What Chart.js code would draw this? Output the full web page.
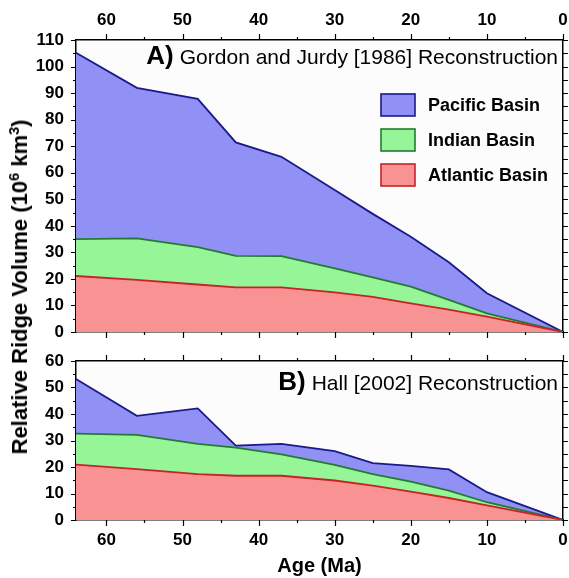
<!DOCTYPE html>
<html lang="en">
<head>
<meta charset="UTF-8">
<title>Relative Ridge Volume</title>
<script src="https://cdn.jsdelivr.net/npm/chart.js"></script>
<style>
  html, body { margin: 0; padding: 0; background: #fff; }
  body { width: 569px; height: 578px; position: relative; overflow: hidden; }
  .panel { position: absolute; left: 0; width: 569px; }
  #boxA { top: 0; height: 350px; }
  #boxB { top: 350px; height: 228px; }
  #ytitle {
    position: absolute; left: 20px; top: 287px;
    transform: translate(-50%, -50%) rotate(-90deg);
    white-space: nowrap; line-height: 1;
    font: bold 22px "Liberation Sans", Arial, Helvetica, sans-serif;
  }
  #ytitle sup { font-size: 0.66em; vertical-align: 0.55em; line-height: 0; }
</style>
</head>
<body>
  <div class="panel" id="boxA"><canvas id="chartA"></canvas></div>
  <div class="panel" id="boxB"><canvas id="chartB"></canvas></div>
  <div id="ytitle">Relative Ridge Volume (10<sup>6</sup> km<sup>3</sup>)</div>

<script>
// ages (Ma) where the curves were sampled
const ages = [64, 56, 48, 43, 37, 30, 25, 20, 15, 10, 0];
const ageTicks = [60, 50, 40, 30, 20, 10, 0];

// A) Gordon and Jurdy [1986] - top edge of each stacked band (10^6 km^3)
const atlanticA  = [21.1, 19.6, 17.9, 16.8, 16.8, 14.9, 13.2, 10.8, 8.4, 5.8, 0];
const indianTopA = [35.0, 35.3, 32.0, 28.7, 28.6, 24.0, 20.6, 17.1, 12.1, 7.0, 0];
const pacificTopA = [105.2, 92.0, 87.8, 71.4, 66.0, 53.5, 44.5, 35.9, 26.3, 14.6, 0];

// B) Hall [2002]
const atlanticB  = [20.9, 19.2, 17.3, 16.7, 16.7, 14.9, 13.0, 10.7, 8.3, 5.5, 0];
const indianTopB = [32.6, 32.1, 28.7, 27.3, 24.8, 20.8, 17.3, 14.5, 11.1, 6.7, 0];
const pacificTopB = [53.2, 39.3, 42.1, 28.1, 28.7, 26.0, 21.5, 20.4, 19.1, 10.5, 0];

const FONT = "'Liberation Sans', Arial, Helvetica, sans-serif";
Chart.defaults.font.family = FONT;
Chart.defaults.color = '#000';

const styles = {
  atlantic: { fill: '#f99393', line: '#c4232a' },
  indian:   { fill: '#96f596', line: '#237a33' },
  pacific:  { fill: '#9090f5', line: '#1a1a88' }
};

function series(vals) {
  return ages.map((a, i) => ({ x: a, y: vals[i] }));
}

function band(label, vals, st, fill) {
  return {
    label: label, data: series(vals), fill: fill,
    backgroundColor: st.fill, borderColor: st.line,
    borderWidth: 1.8, pointRadius: 0, tension: 0
  };
}

// frame ticks, panel title and the in-plot legend
const decor = {
  id: 'decor',
  beforeDraw(chart) {
    const a = chart.chartArea, ctx = chart.ctx;
    ctx.save();
    ctx.fillStyle = '#fcfcfc';
    ctx.fillRect(a.left, a.top, a.right - a.left, a.bottom - a.top);
    ctx.restore();
  },
  afterDraw(chart, args, opts) {
    const { ctx, chartArea: a, scales } = chart;
    ctx.save();
    ctx.strokeStyle = '#000';
    ctx.lineWidth = 1.2;
    ctx.beginPath();
    for (let v = 0; v <= 64; v += 5) {
      const px = Math.round(scales.x.getPixelForValue(v)) + 0.5;
      const len = v % 10 === 0 ? 6 : 3;
      ctx.moveTo(px, a.top); ctx.lineTo(px, a.top - len);
      ctx.moveTo(px, a.bottom); ctx.lineTo(px, a.bottom + len);
    }
    for (let v = 0; v <= scales.y.max; v += 5) {
      const py = Math.round(scales.y.getPixelForValue(v)) + 0.5;
      const len = v % 10 === 0 ? 5 : 3;
      ctx.moveTo(a.left, py); ctx.lineTo(a.left - len, py);
      ctx.moveTo(a.right, py); ctx.lineTo(a.right + 5, py);
    }
    ctx.stroke();

    // panel title
    ctx.fillStyle = '#000';
    ctx.textAlign = 'right';
    ctx.textBaseline = 'alphabetic';
    const ty = a.top + opts.titleOffset;
    ctx.font = '21px ' + FONT;
    const w = ctx.measureText(opts.text).width;
    ctx.fillText(opts.text, a.right - 5, ty);
    ctx.font = 'bold 26px ' + FONT;
    ctx.fillText(opts.tag, a.right - 5 - w - 6, ty);

    if (opts.legend) {
      const items = chart.data.datasets.slice().reverse();
      items.forEach((ds, i) => {
        const cy = 105 + i * 35;
        ctx.fillStyle = ds.backgroundColor;
        ctx.fillRect(381, cy - 11, 34, 22);
        ctx.strokeStyle = ds.borderColor;
        ctx.lineWidth = 1.6;
        ctx.strokeRect(381, cy - 11, 34, 22);
        ctx.fillStyle = '#000';
        ctx.textAlign = 'left';
        ctx.textBaseline = 'middle';
        ctx.font = 'bold 18px ' + FONT;
        ctx.fillText(ds.label, 428, cy + 1);
      });
    }
    ctx.restore();
  }
};

// fixed axis sizes, and no extra room for labels hanging past the plot edges
function fixSize(prop, size) {
  return s => {
    s[prop] = size;
    s.paddingTop = 0; s.paddingBottom = 0;
    s.paddingLeft = 0; s.paddingRight = 0;
  };
}

function makeChart(id, atl, ind, pac, cfg) {
  const tickFont = { size: 17, weight: 'bold' };
  const setTicks = list => s => { s.ticks = list.map(v => ({ value: v })); };
  const yTicks = [];
  for (let v = 0; v <= cfg.ymax; v += 10) yTicks.push(v);
  const border = { display: true, color: '#000', width: 1.5 };
  const noGrid = { display: false, drawTicks: false };

  return new Chart(document.getElementById(id), {
    type: 'line',
    data: {
      datasets: [
        band('Atlantic Basin', atl, styles.atlantic, 'origin'),
        band('Indian Basin', ind, styles.indian, '-1'),
        band('Pacific Basin', pac, styles.pacific, '-1')
      ]
    },
    options: {
      responsive: true,
      maintainAspectRatio: false,
      animation: false,
      layout: { padding: 0 },
      plugins: {
        legend: { display: false },
        tooltip: { enabled: false },
        decor: { tag: cfg.tag, text: cfg.text, titleOffset: cfg.titleOffset, legend: cfg.legend }
      },
      scales: {
        x: {
          type: 'linear', position: 'bottom', min: 0, max: 64, reverse: true,
          afterBuildTicks: setTicks(ageTicks),
          ticks: { display: cfg.bottomLabels, font: tickFont, padding: 10, maxRotation: 0, autoSkip: false },
          grid: noGrid, border: border,
          title: { display: cfg.bottomLabels, text: 'Age (Ma)', font: { size: 20, weight: 'bold' }, padding: 0 },
          afterFit: fixSize('height', cfg.bottomH)
        },
        x2: {
          type: 'linear', position: 'top', min: 0, max: 64, reverse: true,
          afterBuildTicks: setTicks(ageTicks),
          ticks: { display: cfg.topLabels, font: tickFont, padding: 9, maxRotation: 0, autoSkip: false },
          grid: noGrid, border: border,
          afterFit: fixSize('height', cfg.topH)
        },
        y: {
          type: 'linear', position: 'left', min: 0, max: cfg.ymax,
          afterBuildTicks: setTicks(yTicks),
          ticks: { font: tickFont, padding: 12 },
          grid: noGrid, border: border,
          afterFit: fixSize('width', 76)
        },
        y2: {
          type: 'linear', position: 'right', min: 0, max: cfg.ymax,
          ticks: { display: false },
          grid: noGrid, border: border,
          afterFit: fixSize('width', 6)
        }
      }
    },
    plugins: [decor]
  });
}

makeChart('chartA', atlanticA, indianTopA, pacificTopA, {
  ymax: 110, topH: 40, bottomH: 18, topLabels: true, bottomLabels: false,
  tag: 'A)', text: 'Gordon and Jurdy [1986] Reconstruction', titleOffset: 23.5, legend: true
});

makeChart('chartB', atlanticB, indianTopB, pacificTopB, {
  ymax: 60, topH: 11, bottomH: 58, topLabels: false, bottomLabels: true,
  tag: 'B)', text: 'Hall [2002] Reconstruction', titleOffset: 29, legend: false
});
</script>
</body>
</html>
